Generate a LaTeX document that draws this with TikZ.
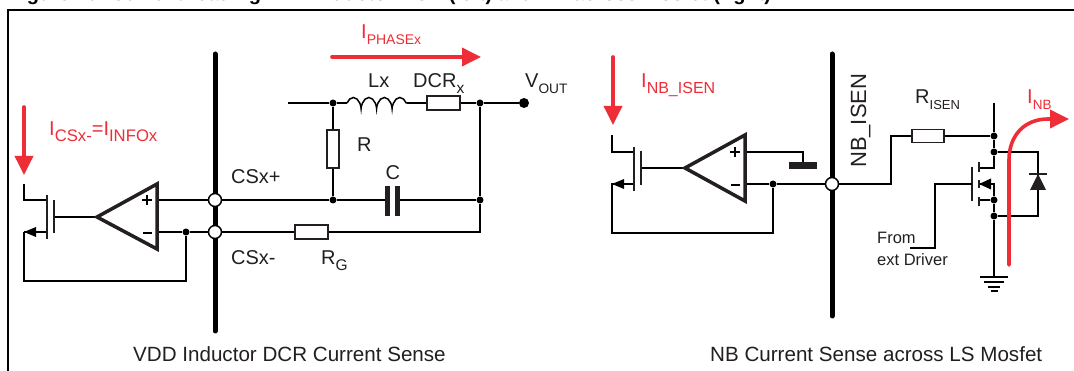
\documentclass[tikz,border=0pt]{standalone}
\usepackage{fontspec}
\setmainfont{Liberation Sans}
\usetikzlibrary{arrows.meta,decorations.pathmorphing}
\definecolor{ink}{HTML}{231F20}
\definecolor{redc}{HTML}{EE2D36}
\newcommand{\subx}[2][15.5]{\raisebox{-5.5pt}{\fontsize{#1}{#1}\selectfont #2}}
\tikzset{
  lbl/.style={inner sep=0pt,anchor=base west,text=ink,font=\fontsize{20}{20}\selectfont},
  redlbl/.style={lbl,text=redc},
  smalllbl/.style={lbl,font=\fontsize{16.5}{16.5}\selectfont},
  wire/.style={draw=black,line width=1.5pt,line join=miter},
  res/.style={draw=ink,line width=1.5pt,fill=white,rectangle,inner sep=0pt,minimum width=33pt,minimum height=14pt},
  resv/.style={res,minimum width=12pt,minimum height=38pt},
  dotj/.style={circle,fill=black,inner sep=0pt,minimum size=7pt},
  pin/.style={circle,draw=black,line width=1.5pt,fill=white,inner sep=0pt,minimum size=13pt},
  bus/.style={draw=black,line width=5pt,line cap=round},
  amp/.style={draw=ink,line width=3.5pt,line join=miter},
  redflow/.style={draw=redc,line width=3.6pt,line cap=round,-{Triangle[length=19pt,width=18pt]}},
  thickplate/.style={draw=ink,line width=1.7pt},
}
\begin{document}
\begin{tikzpicture}[x=1pt,y=-1pt]
\useasboundingbox (0,0) rectangle (1074,371);
\clip (0,0) rectangle (1074,371);
\fill[white] (0,0) rectangle (1074,371);
% title, cut by the top edge of the picture
\node[inner sep=0pt,anchor=base west,font=\bfseries\fontsize{20}{20}\selectfont] (title) at (9,1) {Figure 10. Current reading VDD Inductor DCR (left) and NB across Mosfet (right)};
% frame
\coordinate (f1) at (8,371); \coordinate (f2) at (8,10); \coordinate (f3) at (1074,10);
\draw[line width=2pt] (f1) -- (f2) -- (f3);

%%%% LEFT
\coordinate (busAt) at (215,54); \coordinate (busAb) at (215,331);
\draw[bus] (busAt) -- (busAb);
\node[pin] (csp) at (215,200) {};
\node[pin] (csm) at (215,232) {};
\coordinate (phS) at (288,103);
\node[dotj] (j1) at (333,103) {};
\coordinate (lA) at (347,103); \coordinate (lB) at (407,103);
\node[res] (dcr) at (443.5,103) {};
\node[dotj] (j2) at (480,103) {};
\node[circle,fill=black,inner sep=0pt,minimum size=10pt] (vout) at (524,103) {};
\node[resv] (rr) at (333,149) {};
\node[dotj] (j3) at (333,200) {};
\node[dotj] (j4) at (480,200) {};
\coordinate (capA) at (385,200); \coordinate (capB) at (398,200);
\node[res] (rg) at (311.5,232) {};
\coordinate (cor1) at (480,232);
\draw[wire] (phS) -- (j1) -- (lA);
\draw[wire,decorate,decoration={coil,amplitude=5.5pt,segment length=15.5pt,aspect=0.45},yshift=-2pt] (lA) -- (lB);
\draw[wire] (lB) -- (dcr) -- (j2) -- (vout);
\draw[wire] (j1) -- (rr) -- (j3);
\draw[wire] (csp) -- (j3) -- (capA);
\draw[wire] (capB) -- (j4);
\draw[wire] (j2) -- (j4) -- (cor1) -- (rg) -- (csm);
\draw[line width=5pt,draw=ink] (387.5,186) -- (387.5,216);
\draw[line width=5pt,draw=ink] (397.5,186) -- (397.5,216);
% left amplifier
\coordinate (aA) at (97,217); \coordinate (aT) at (157,184); \coordinate (aB) at (157,249);
\coordinate (ap) at (157,200); \coordinate (am) at (157,232);
\node[dotj] (j5) at (186,232) {};
\coordinate (fb1) at (186,281); \coordinate (fb2) at (24,281); \coordinate (fb3) at (24,232);
\coordinate (gt) at (54,217); \coordinate (dr1) at (24,184); \coordinate (dr2) at (24,200); \coordinate (dr3) at (47,200); \coordinate (sr) at (47,232);
\draw[wire] (ap) -- (csp);
\draw[wire] (am) -- (j5) -- (csm);
\draw[wire] (j5) -- (fb1) -- (fb2) -- (fb3);
\draw[wire] (fb3) -- (sr);
\draw[wire] (dr1) -- (dr2) -- (dr3);
\draw[wire] (aA) -- (gt);
\draw[thickplate] (54,200) -- (54,233);
\draw[thickplate] (47,195) -- (47,239);
\fill[black] (24,232) -- (36,227) -- (36,237) -- cycle;
\draw[amp] (aA) -- (aT) -- (aB) -- cycle;
\draw[line width=1.8pt] (142,200) -- (152,200) (147,195) -- (147,205);
\draw[line width=1.8pt] (143,233) -- (152,233);

\draw[redflow] (332,57) -- (481,57);
\draw[redflow] (24,107) -- (24,175);
\node[redlbl] (tphase) at (361,39) {I\subx[14]{PHASEx}};
\node[redlbl] (tcs) at (49,136) {I\subx[16.7]{CSx-}=I\subx[16.7]{INFOx}};
\node[lbl] (tlx) at (368,88) {Lx};
\node[lbl] (tdcr) at (413,88) {DCR\subx{x}};
\node[lbl] (tvout) at (525,88) {V\subx[13.7]{OUT}};
\node[lbl] (tr) at (357,152) {R};
\node[lbl] (tc) at (385.5,180) {C};
\node[lbl] (tcp) at (231,184) {CSx+};
\node[lbl] (tcm) at (231,265) {CSx-};
\node[lbl] (trg) at (321,265) {R\subx{G}};
\node[lbl,font=\fontsize{20.6}{20.6}\selectfont] (capL) at (133,362) {VDD Inductor DCR Current Sense};

%%%% RIGHT
\coordinate (busBt) at (832,54); \coordinate (busBb) at (832,316);
\draw[bus] (busBt) -- (busBb);
\node[pin] (nbp) at (832,184) {};
% amplifier
\coordinate (bA) at (685,168); \coordinate (bT) at (745,135); \coordinate (bB) at (745,201);
\coordinate (bp) at (745,152); \coordinate (bm) at (745,184);
\node[dotj] (j6) at (773,184) {};
\coordinate (g1) at (803,152); \coordinate (g2) at (803,165);
\coordinate (fc1) at (773,233); \coordinate (fc2) at (612,233); \coordinate (fc3) at (612,184);
\coordinate (ds1) at (612,135); \coordinate (ds2) at (612,152); \coordinate (ds3) at (634,152); \coordinate (ss) at (634,184);
\coordinate (ggt) at (641,168);
\draw[wire] (bp) -- (g1) -- (g2);
\draw[wire] (bm) -- (j6) -- (nbp);
\draw[wire] (j6) -- (fc1) -- (fc2) -- (fc3) -- (ss);
\draw[wire] (ds1) -- (ds2) -- (ds3);
\draw[wire] (bA) -- (ggt);
\fill[ink] (789,162) rectangle (817,169);
\draw[thickplate] (641,151) -- (641,185);
\draw[thickplate] (634,147) -- (634,191);
\fill[black] (612,184) -- (624,179) -- (624,189) -- cycle;
\draw[amp] (bA) -- (bT) -- (bB) -- cycle;
\draw[line width=1.8pt] (730,152) -- (740,152) (735,147) -- (735,157);
\draw[line width=1.8pt] (731,185) -- (740,185);
% sense network
\coordinate (w1) at (891,184); \coordinate (w2) at (891,136);
\node[res,minimum width=32pt,minimum height=13pt] (ris) at (928,136) {};
\node[dotj] (k1) at (994,136) {};
\node[dotj] (k2) at (994,152) {};
\node[dotj] (k3) at (994,200) {};
\node[dotj] (k4) at (994,216) {};
\coordinate (top) at (994,103); \coordinate (gnd) at (994,277);
\coordinate (dt) at (1038,152); \coordinate (db) at (1038,216);
\draw[wire] (nbp) -- (w1) -- (w2) -- (ris) -- (k1);
\draw[wire] (top) -- (k1) -- (k2) -- (dt) -- (db) -- (k4);
\draw[wire] (k3) -- (k4) -- (gnd);
\coordinate (m1) at (979,168); \coordinate (m2) at (994,168); \coordinate (m3) at (979,184); \coordinate (m4) at (994,184); \coordinate (m5) at (979,200);
\draw[wire] (k2) -- (m2) -- (m1);
\draw[wire] (m3) -- (m4) -- (k3) -- (m5);
\fill[black] (979,184) -- (991,178.5) -- (991,189.5) -- cycle;
\draw[thickplate] (979,162) -- (979,172);
\draw[thickplate] (979,180) -- (979,188);
\draw[thickplate] (979,197) -- (979,206);
\draw[thickplate] (972,167) -- (972,201);
\coordinate (gg1) at (972,184); \coordinate (gg2) at (935,184); \coordinate (gg3) at (935,248); \coordinate (gg4) at (910,248);
\draw[wire] (gg1) -- (gg2) -- (gg3) -- (gg4);
% diode
\fill[ink] (1038,174) -- (1046,190) -- (1030,190) -- cycle;
\draw[line width=1.7pt,draw=ink] (1029,174) -- (1047,174);
% ground
\draw[line width=1.7pt] (980,277) -- (1008,277) (984,282) -- (1004,282) (988,287) -- (1000,287) (990.5,291) -- (997.5,291);
% red path
\draw[redflow] (1009,265) -- (1009,160) .. controls (1009,135) and (1025,119) .. (1048,119) -- (1069,119);
\draw[redflow] (613,57) -- (613,125);
\node[redlbl] (tnbi) at (641,88) {I\subx[16]{NB\_ISEN}};
\node[redlbl] (tinb) at (1027,104) {I\subx[13.5]{NB}};
\node[lbl] (tris) at (915,104) {R\subx[13]{ISEN}};
\node[lbl,rotate=90,font=\fontsize{22}{22}\selectfont] (tnb) at (866,168) {NB\_ISEN};
\node[smalllbl] (tfrom) at (877,244) {From};
\node[smalllbl] (text) at (877,266) {ext Driver};
\node[lbl,font=\fontsize{20.6}{20.6}\selectfont] (capR) at (710,362) {NB Current Sense across LS Mosfet};
\end{tikzpicture}
\end{document}
